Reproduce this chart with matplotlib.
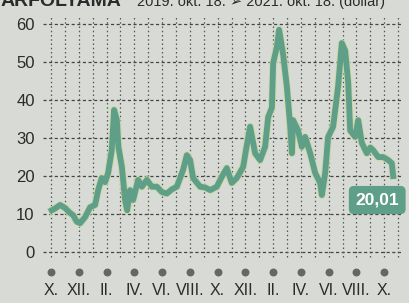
import numpy as np
import matplotlib.pyplot as plt

# ---- adatok ----
month_pos = [0.05, 0.3, 0.65, 1.01, 1.3, 1.59, 1.85, 2.09, 2.45, 2.81, 3.17, 3.39, 3.65, 3.89,
             4.11, 4.37, 4.54, 4.74, 4.85, 5.10, 5.33, 5.48, 5.69, 5.91, 6.27, 6.54, 6.90,
             7.26, 7.62, 7.98, 8.34, 8.7, 9.06, 9.51, 9.78, 10.02, 10.23, 10.74, 11.1, 11.46,
             11.94, 12.30, 12.66, 13.02, 13.38, 13.84, 14.05, 14.34, 14.70, 15.06, 15.42,
             15.64, 15.91, 16.0, 16.27, 16.43, 16.72, 16.99, 17.23, 17.35, 17.44, 17.80,
             18.07, 18.31, 18.67, 19.03, 19.39, 19.51, 19.75, 19.96, 20.32, 20.68, 20.95,
             21.19, 21.41, 21.55, 21.91, 22.13, 22.39, 22.75, 23.0, 23.21, 23.57, 23.93,
             24.29, 24.55, 24.65]
price = [11.0, 11.5, 12.4, 11.6, 10.5, 9.7, 8.0, 7.6, 9.2, 11.8, 12.4, 16.3, 19.5, 18.4,
         20.8, 26.8, 37.4, 34.7, 27.7, 22.4, 13.7, 11.0, 16.3, 13.7, 19.0, 17.2, 19.0,
         17.2, 17.2, 15.8, 15.4, 16.5, 17.2, 21.6, 25.5, 24.2, 19.5, 17.2, 17.0, 16.3,
         17.2, 19.8, 22.1, 18.2, 19.5, 22.4, 27.0, 33.0, 26.0, 24.2, 27.7,
         35.5, 38.0, 49.7, 54.0, 58.5, 52.0, 43.5, 33.0, 26.0, 34.7, 32.0,
         27.7, 30.3, 26.0, 20.8, 18.2, 15.0, 20.8, 30.3, 33.0, 43.5, 55.0,
         53.0, 44.5, 32.0, 30.3, 34.7, 28.7, 26.0, 27.5, 26.8, 25.0, 25.0,
         24.2, 23.4, 20.01]
tick_pos = [0, 2, 4, 6, 8, 10, 12, 14, 16, 18, 20, 22, 24]
tick_labels = ['X.', 'XII.', 'II.', 'IV.', 'VI.', 'VIII.', 'X.', 'XII.', 'II.', 'IV.',
               'VI.', 'VIII.', 'X.']
y_ticks = [0, 10, 20, 30, 40, 50, 60]
last_label = '20,01'

plt.rcParams['font.family'] = ['Liberation Sans', 'DejaVu Sans']

bg = '#d8dbd5'
green = '#5f9f89'
ink = '#2b2b2b'

fig = plt.figure(figsize=(4.10, 3.03), dpi=100, facecolor=bg)
ax = fig.add_axes([0.105, 0.01, 0.876, 0.947])
ax.set_facecolor(bg)
ax.set_xlim(-0.58, 25.3)
ax.set_ylim(-12.6, 62.9)
for s in ax.spines.values():
    s.set_visible(False)

# racs
ax.hlines(y_ticks, -0.58, 25.3, colors='#444444', linestyles=(0, (2.5, 2)), lw=0.9, zorder=1)
ax.vlines(np.arange(0, 26), -1.2, 62.5, colors='#555555', linestyles=(0, (1.2, 2.2)), lw=0.9, zorder=1)

# vonal
ax.plot(month_pos, price, color='#c9d9a0', lw=5.4, solid_joinstyle='round', zorder=2)
ax.plot(month_pos, price, color=green, lw=4.2, solid_joinstyle='round', zorder=3)

# cimke
ax.text(23.5, 13.7, last_label, ha='center', va='center', color='white', fontsize=12.5,
        fontweight='bold', zorder=5,
        bbox=dict(boxstyle='round,pad=0.38,rounding_size=0.3', fc=green, ec='none'))

# tengelyek
ax.set_yticks(y_ticks)
ax.set_yticklabels([str(v) for v in y_ticks], fontsize=12, color=ink)
ax.tick_params(axis='y', length=0, pad=6)
ax.set_xticks([])
ax.scatter(tick_pos, [-5.3] * len(tick_pos), s=22, color='#666666', zorder=3, clip_on=False)
for p, lab in zip(tick_pos, tick_labels):
    ax.text(p, -10.1, lab, ha='center', va='center', fontsize=11.5, color=ink)

# cim (a felso resze levagva, mint az eredetin)
fig.text(0.0, 0.979, 'ÁRFOLYAMA', fontsize=14, fontweight='bold', color=ink, va='baseline')
fig.text(0.335, 0.979, '2019. okt. 18. ➢ 2021. okt. 18. (dollár)', fontsize=10.5,
         color=ink, va='baseline')

fig.savefig('out.png', dpi=100, facecolor=bg)
